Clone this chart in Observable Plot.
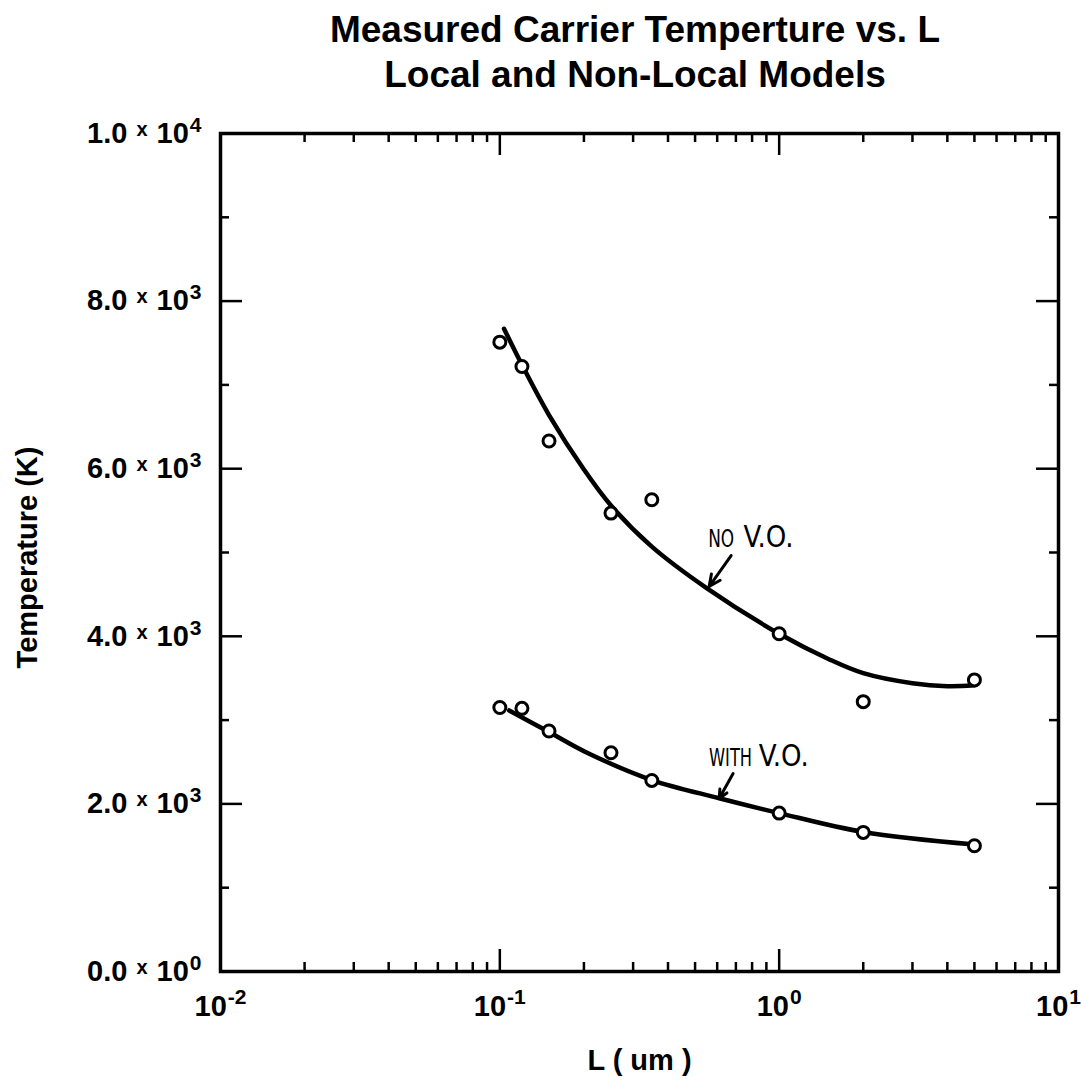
<!DOCTYPE html>
<html>
<head>
<meta charset="utf-8">
<script src="https://cdn.jsdelivr.net/npm/d3@7"></script>
<script src="https://cdn.jsdelivr.net/npm/@observablehq/plot@0.6"></script>
<style>
  body { margin: 0; background: #fff; }
  #wrap { position: relative; width: 1081px; height: 1083px; overflow: hidden; background: #fff;
          font-family: "Liberation Sans", Arial, Helvetica, sans-serif; }
  #title { position: absolute; left: 216px; width: 838px; top: 7px; text-align: center;
           font-weight: bold; font-size: 37px; line-height: 45px; color: #000; }
  #chart { position: absolute; left: 0; top: 100px; }
</style>
</head>
<body>
<div id="wrap">
  <div id="title">Measured Carrier Temperture vs. L<br>Local and Non-Local Models</div>
  <div id="chart"></div>
</div>
<script>
// ---- data ----
const L_measured = [0.1, 0.12, 0.15, 0.25, 0.35, 1, 2, 5];
const T_noVO     = [7510, 7220, 6330, 5470, 5630, 4030, 3220, 3480];
const T_withVO   = [3150, 3140, 2870, 2610, 2280, 1890, 1660, 1500];

// fitted (model) curves
const L_fitNo = [0.1035, 0.12, 0.15, 0.2, 0.25, 0.35, 0.55, 1, 1.5, 2, 3, 4, 5];
const T_fitNo = [7670, 7240, 6640, 5990, 5560, 5070, 4575, 4030, 3730, 3560, 3440, 3405, 3415];
const L_fitWith = [0.108, 0.15, 0.207, 0.35, 0.61, 1, 2, 5];
const T_fitWith = [3115, 2858, 2605, 2285, 2068, 1890, 1665, 1515];

// axis ticks
const xMajor = [0.01, 0.1, 1, 10];
const xExp   = [-2, -1, 0, 1];
const xMinor = [2,3,4,5,6,7,8,9].flatMap(m => [m*0.01, m*0.1, m*1]);
const yMajor = [0, 2000, 4000, 6000, 8000, 10000];
const yMantissa = ["0.0", "2.0", "4.0", "6.0", "8.0", "1.0"];
const yExp      = ["0", "3", "3", "3", "3", "4"];
const yMinor = [1000, 3000, 5000, 7000, 9000];

// annotations
const tagSmall  = ["NO", "WITH"];
const tagSmallL = [0.557, 0.561];
const tagSmallT = [5060, 2458];
const tagLarge  = ["V.O.", "V.O."];
const tagLargeL = [0.745, 0.845];
const tagLargeT = [5060, 2458];
const arrowFromL = [0.673, 0.684];
const arrowFromT = [4964, 2363];
const arrowToL   = [0.5614, 0.61];
const arrowToT   = [4594, 2064];

// ---- build tables ----
const measured = L_measured.map((L, i) => ({L, no: T_noVO[i], wi: T_withVO[i]}));
const fitNo = L_fitNo.map((L, i) => ({L, T: T_fitNo[i]}));
const fitWith = L_fitWith.map((L, i) => ({L, T: T_fitWith[i]}));
const small = tagSmall.map((t, i) => ({t, L: tagSmallL[i], T: tagSmallT[i]}));
const large = tagLarge.map((t, i) => ({t, L: tagLargeL[i], T: tagLargeT[i]}));
const arrows = arrowFromL.map((_, i) => ({x1: arrowFromL[i], y1: arrowFromT[i], x2: arrowToL[i], y2: arrowToT[i]}));

const W = 1081, H = 983, mT = 33, mB = 112, mL = 220, mR = 23;
const fh = H - mT - mB, fw = W - mL - mR;
const majorLen = 22, minorLen = 9, tickW = 2.5;
const annoFont = "'DejaVu Sans Condensed', 'DejaVu Sans', sans-serif";

const chart = Plot.plot({
  width: W, height: H,
  marginTop: mT, marginBottom: mB, marginLeft: mL, marginRight: mR,
  style: {fontFamily: "'Liberation Sans', Arial, sans-serif", fontWeight: "bold", fontSize: "29px", color: "#000", background: "#fff", overflow: "visible"},
  x: {type: "log", domain: [0.01, 10], label: null},
  y: {domain: [0, 10000], label: null},
  marks: [
    // inward ticks on all four sides
    Plot.tickX(xMajor, {x: d => d, insetTop: fh - majorLen, strokeWidth: tickW}),
    Plot.tickX(xMajor, {x: d => d, insetBottom: fh - majorLen, strokeWidth: tickW}),
    Plot.tickX(xMinor, {x: d => d, insetTop: fh - minorLen, strokeWidth: tickW}),
    Plot.tickX(xMinor, {x: d => d, insetBottom: fh - minorLen, strokeWidth: tickW}),
    Plot.tickY(yMajor, {y: d => d, insetRight: fw - majorLen, strokeWidth: tickW}),
    Plot.tickY(yMajor, {y: d => d, insetLeft: fw - majorLen, strokeWidth: tickW}),
    Plot.tickY(yMinor, {y: d => d, insetRight: fw - minorLen, strokeWidth: tickW}),
    Plot.tickY(yMinor, {y: d => d, insetLeft: fw - minorLen, strokeWidth: tickW}),
    Plot.frame({strokeWidth: 3.5}),
    Plot.axisX(xMajor, {tickSize: 0, tickPadding: 24, label: null, fontSize: 29, fontWeight: "bold",
      tickFormat: d => "10|" + xExp[xMajor.indexOf(d)]}),
    Plot.axisY(yMajor, {tickSize: 0, tickPadding: 19, label: null, fontSize: 29, fontWeight: "bold",
      tickFormat: d => yMantissa[yMajor.indexOf(d)] + "|" + yExp[yMajor.indexOf(d)]}),
    // axis titles
    Plot.text(["L ( um )"], {frameAnchor: "bottom", dy: 98, text: d => d, fontSize: 29, fontWeight: "bold"}),
    Plot.text(["Temperature (K)"], {frameAnchor: "left", textAnchor: "middle", lineAnchor: "middle", dx: -193, dy: 5, rotate: -90, text: d => d, fontSize: 29, fontWeight: "bold"}),
    // model curves
    Plot.line(fitNo, {x: "L", y: "T", curve: "catmull-rom", strokeWidth: 4.5, stroke: "#000"}),
    Plot.line(fitWith, {x: "L", y: "T", curve: "catmull-rom", strokeWidth: 4.5, stroke: "#000"}),
    // measurements
    Plot.dot(measured, {x: "L", y: "no", r: 6, stroke: "#000", strokeWidth: 3, fill: "#fff"}),
    Plot.dot(measured, {x: "L", y: "wi", r: 6, stroke: "#000", strokeWidth: 3, fill: "#fff"}),
    // annotations
    Plot.arrow(arrows, {x1: "x1", y1: "y1", x2: "x2", y2: "y2", headLength: 12, headAngle: 50, strokeWidth: 3, stroke: "#000"}),
    Plot.text(small, {x: "L", y: "T", text: "t", textAnchor: "start", lineAnchor: "bottom", fontSize: 24, fontWeight: "normal", fontFamily: annoFont}),
    Plot.text(large, {x: "L", y: "T", text: "t", textAnchor: "start", lineAnchor: "bottom", fontSize: 30, fontWeight: "normal", fontFamily: annoFont})
  ]
});

// turn "mantissa|exp" tick labels into mantissa x 10^exp with tspans
const NS = "http://www.w3.org/2000/svg";
function tspan(parent, txt, attrs) {
  const t = document.createElementNS(NS, "tspan");
  t.textContent = txt;
  for (const k in attrs) t.setAttribute(k, attrs[k]);
  parent.appendChild(t);
}
chart.querySelectorAll('g[aria-label="y-axis tick label"] text').forEach(el => {
  const [m, e] = el.textContent.split("|");
  el.textContent = "";
  tspan(el, m, {});
  tspan(el, "x", {"font-size": 20, dx: 9, dy: -7});
  tspan(el, "10", {dx: 9, dy: 7});
  tspan(el, e, {"font-size": 21, dx: 1, dy: -11});
});
chart.querySelectorAll('g[aria-label="x-axis tick label"] text').forEach(el => {
  const [b, e] = el.textContent.split("|");
  el.textContent = "";
  tspan(el, b, {});
  tspan(el, e, {"font-size": 21, dx: 1, dy: -12});
});

document.getElementById("chart").appendChild(chart);

// narrow, tall lettering for the curve annotations (horizontal squeeze about the text start)
const annoWidth = {"NO": 26, "WITH": 43, "V.O.": 50};
chart.querySelectorAll('text').forEach(el => {
  const w = annoWidth[el.textContent];
  if (w && el.children.length === 0) {
    const natural = el.getComputedTextLength();
    if (natural > 0) {
      const sx = w / natural;
      const x = +(el.getAttribute("x") || 0), y = +(el.getAttribute("y") || 0);
      const t = el.getAttribute("transform") || "";
      el.setAttribute("transform", `${t} translate(${x},${y}) scale(${sx},1) translate(${-x},${-y})`.trim());
    }
  }
});
</script>
</body>
</html>
